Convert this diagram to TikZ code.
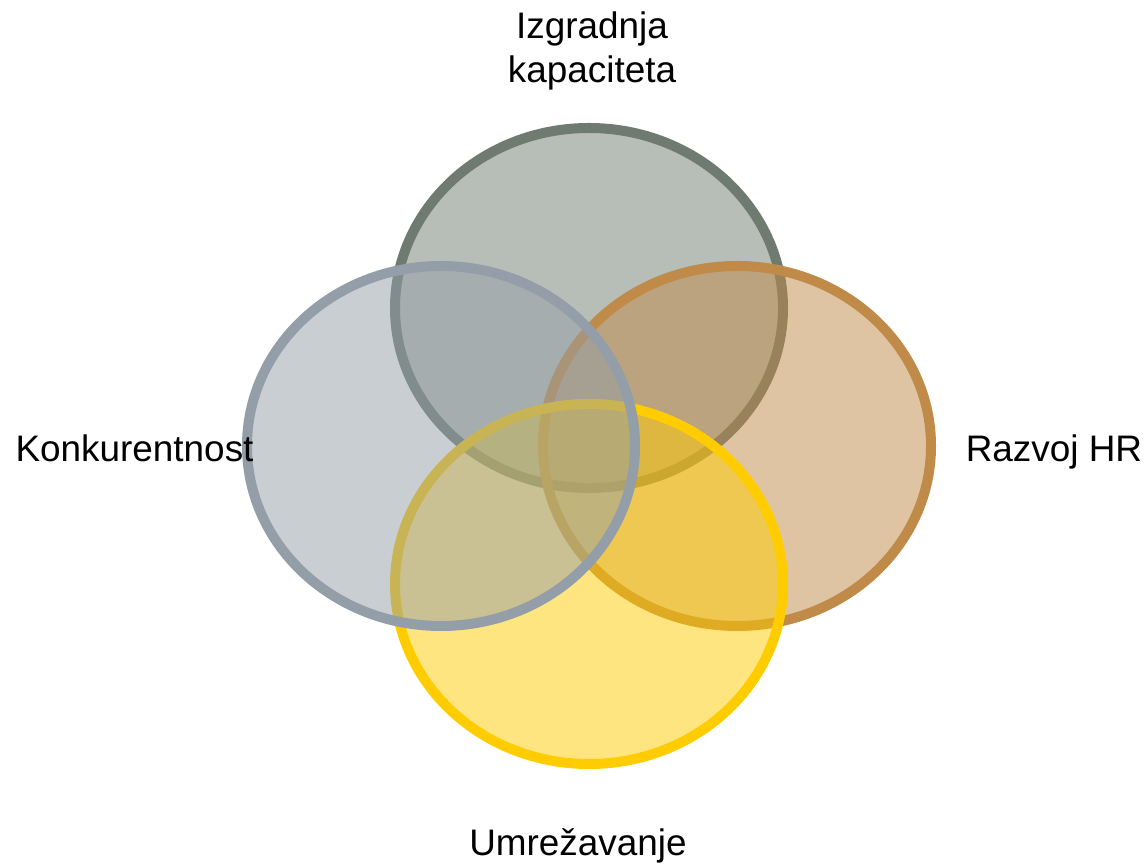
\documentclass[tikz,border=0pt]{standalone}
\usepackage{fontspec}
\setmainfont{Liberation Sans}
\usepackage{tikz}

\definecolor{kapcol}{HTML}{6F7B70}
\definecolor{hrcol}{HTML}{C08A48}
\definecolor{umrcol}{HTML}{FFCC00}
\definecolor{konkcol}{HTML}{939EA8}

\begin{document}
\begin{tikzpicture}[
  krug/.style={line width=0.2cm, fill opacity=0.5},
  oznaka/.style={font=\fontsize{21}{24.5}\selectfont, inner sep=0pt}]
\useasboundingbox (0,0) rectangle (22.92,17.3);
%\node {\includegraphics{venn.png}};
\draw[krug, draw=kapcol, fill=kapcol] (11.78,11.14) ellipse (3.88 and 3.6);
\draw[krug, draw=hrcol, fill=hrcol] (14.74,8.38) ellipse (3.88 and 3.6);
\draw[krug, draw=umrcol, fill=umrcol] (11.78,5.62) ellipse (3.88 and 3.6);
\draw[krug, draw=konkcol, fill=konkcol] (8.82,8.38) ellipse (3.88 and 3.6);

\node[oznaka, align=center] (kap) at (11.84,16.28) {Izgradnja\\kapaciteta};
\node[oznaka, anchor=base] (konk) at (2.69,8.06) {Konkurentnost};
\node[oznaka, anchor=base] (hr) at (21.08,8.06) {Razvoj HR};
\node[oznaka, anchor=base] (umr) at (11.56,0.18) {Umrežavanje};

\end{tikzpicture}
\end{document}
